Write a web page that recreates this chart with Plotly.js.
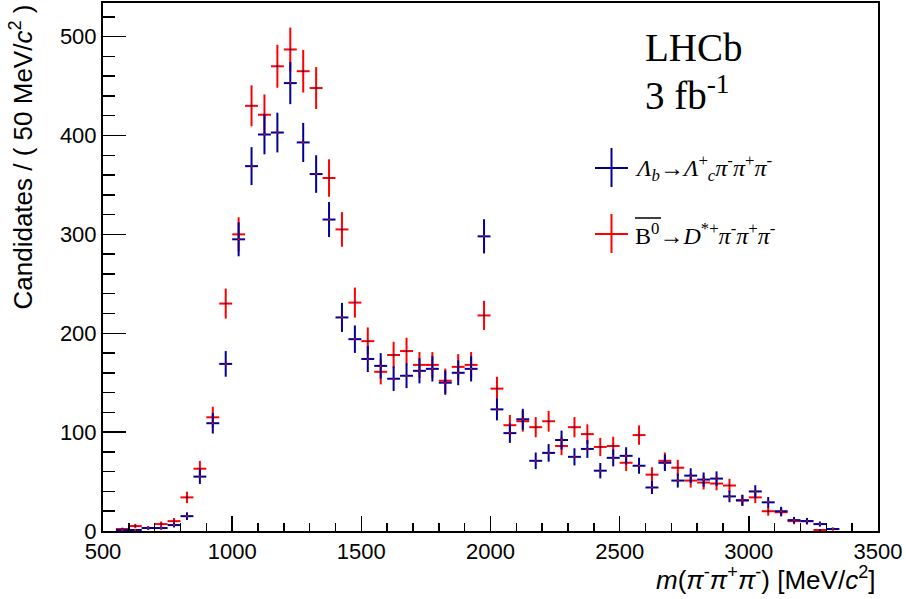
<!DOCTYPE html>
<html>
<head>
<meta charset="utf-8">
<script src="https://cdn.plot.ly/plotly-3.0.1.min.js"></script>
<style>html,body{margin:0;padding:0;background:#fff}#chart{width:906px;height:599px}</style>
</head>
<body>
<div id="chart"></div>
<script>
// Bin centres of m(pi- pi+ pi-) [MeV/c^2], 50 MeV bins
const mass = [575,625,675,725,775,825,875,925,975,1025,1075,1125,1175,1225,1275,1325,1375,1425,1475,1525,1575,1625,1675,1725,1775,1825,1875,1925,1975,2025,2075,2125,2175,2225,2275,2325,2375,2425,2475,2525,2575,2625,2675,2725,2775,2825,2875,2925,2975,3025,3075,3125,3175,3225,3275,3325];
const binHalfWidth = [25];

// Lambda_b -> Lambda_c+ pi- pi+ pi-
const lbCounts = [1,1,3,3,6,15,55,109,169,295,369,401,403,453,393,361,315,216,194,174,167,154,157,162,164,150,160,164,298,123,99,113,71,79,92,75,83,61,74,76,66,44,69,51,56,52,53,35,31,40,29,20,11,10,7,2];
const lbErrors = [1.0,1.0,1.7,1.7,2.4,3.9,7.4,10.4,13.0,17.2,19.2,20.0,20.1,21.3,19.8,19.0,17.7,14.7,13.9,13.2,12.9,12.4,12.5,12.7,12.8,12.2,12.6,12.8,17.3,11.1,9.9,10.6,8.4,8.9,9.6,8.7,9.1,7.8,8.6,8.7,8.1,6.6,8.3,7.1,7.5,7.2,7.3,5.9,5.6,6.3,5.4,4.5,3.3,3.2,2.6,1.4];

// B0bar -> D*+ pi- pi+ pi-
const bdCounts = [2,5,3,7,10,34,63,115,230,300,430,421,470,487,465,448,357,305,231,192,161,178,182,168,168,152,166,168,218,144,107,111,105,111,86,105,98,85,86,69,97,57,71,64,51,49,48,46,31,34,20,19,10,10,1,2];
const bdErrors = [1.4,2.2,1.7,2.6,3.2,5.8,7.9,10.7,15.2,17.3,20.7,20.5,21.7,22.1,21.6,21.2,18.9,17.5,15.2,13.9,12.7,13.3,13.5,13.0,13.0,12.3,12.9,13.0,14.8,12.0,10.3,10.5,10.2,10.5,9.3,10.2,9.9,9.2,9.3,8.3,9.8,7.5,8.4,8.0,7.1,7.0,6.9,6.8,5.6,5.8,4.5,4.4,3.2,3.2,1.0,1.4];

const xTickVals = [500,1000,1500,2000,2500,3000,3500];
const yTickVals = [0,100,200,300,400,500];

const BLUE = '#000099';
const RED = '#ff0000';
const W = 906, H = 599, L = 103, R = 28, T = 3, B = 68;
const pw = W - L - R, ph = H - T - B;
const px = v => (v - L) / pw;        // pixel -> paper x
const py = v => (H - B - v) / ph;    // pixel -> paper y

function histTrace(counts, errs, color, dotColor, name) {
  return {
    type: 'scatter', mode: 'markers', name: name,
    x: mass, y: counts,
    marker: {size: 2, color: dotColor},
    error_y: {type: 'data', array: errs, visible: true, color: color, thickness: 2, width: 0},
    error_x: {type: 'constant', value: binHalfWidth[0], visible: true, color: color, thickness: 2, width: 0},
    showlegend: false, hoverinfo: 'x+y'
  };
}

const data = [
  histTrace(bdCounts, bdErrors, RED, BLUE, 'B0'),
  histTrace(lbCounts, lbErrors, BLUE, RED, 'Lb')
];

const sans = 'Liberation Sans, Arial, sans-serif';
const serif = 'Liberation Serif, Times New Roman, serif';

const layout = {
  width: W, height: H,
  margin: {l: L, r: R, t: T, b: B, pad: 0},
  paper_bgcolor: '#fff', plot_bgcolor: '#fff',
  showlegend: false,
  xaxis: {
    range: [500, 3500], tickvals: xTickVals, ticktext: xTickVals.map(String),
    ticks: 'inside', ticklen: 15, tickwidth: 1.5, tickcolor: '#000',
    minor: {dtick: 100, tick0: 500, ticks: 'inside', ticklen: 8, tickwidth: 1.5, tickcolor: '#000'},
    showline: true, linewidth: 2, linecolor: '#000', mirror: true,
    showgrid: false, zeroline: false,
    tickfont: {family: sans, size: 22, color: '#000'}
  },
  yaxis: {
    range: [0, 534], tickvals: yTickVals, ticktext: yTickVals.map(String),
    ticks: 'inside', ticklen: 23, tickwidth: 1.5, tickcolor: '#000',
    minor: {dtick: 20, tick0: 0, ticks: 'inside', ticklen: 12, tickwidth: 1.5, tickcolor: '#000'},
    showline: true, linewidth: 2, linecolor: '#000', mirror: true,
    showgrid: false, zeroline: false,
    tickfont: {family: sans, size: 22, color: '#000'}
  },
  annotations: [
    {xref: 'paper', yref: 'paper', x: px(22), y: 1.0, xanchor: 'center', yanchor: 'top', textangle: -90,
     text: 'Candidates / ( 50 MeV/<i>c</i><sup>2</sup> )', showarrow: false,
     font: {family: sans, size: 26, color: '#000'}},
    {xref: 'paper', yref: 'paper', x: 1.0, y: py(578), xanchor: 'right', yanchor: 'middle',
     text: '<i>m</i>(<i>π</i><sup>-</sup><i>π</i><sup>+</sup><i>π</i><sup>-</sup>) [MeV/<i>c</i><sup>2</sup>]', showarrow: false,
     font: {family: sans, size: 26, color: '#000'}},
    {xref: 'paper', yref: 'paper', x: px(643), y: py(47), xanchor: 'left', yanchor: 'middle',
     text: 'LHCb', showarrow: false, font: {family: serif, size: 39, color: '#000'}},
    {xref: 'paper', yref: 'paper', x: px(643), y: py(93), xanchor: 'left', yanchor: 'middle',
     text: '3 fb<sup>-1</sup>', showarrow: false, font: {family: serif, size: 39, color: '#000'}},
    {xref: 'paper', yref: 'paper', x: px(633), y: py(168), xanchor: 'left', yanchor: 'middle',
     text: '<i>Λ</i><sub><i>b</i></sub>→<i>Λ</i><sup>+</sup><sub><i>c</i></sub><i>π</i><sup>-</sup><i>π</i><sup>+</sup><i>π</i><sup>-</sup>',
     showarrow: false, font: {family: serif, size: 24, color: '#000'}},
    {xref: 'paper', yref: 'paper', x: px(633), y: py(234), xanchor: 'left', yanchor: 'middle',
     text: 'B<sup>0</sup>→<i>D</i><sup>*+</sup><i>π</i><sup>-</sup><i>π</i><sup>+</sup><i>π</i><sup>-</sup>',
     showarrow: false, font: {family: serif, size: 24, color: '#000'}}
  ],
  shapes: [
    // legend crosses
    {type: 'line', xref: 'paper', yref: 'paper', x0: px(595), x1: px(628), y0: py(168), y1: py(168), line: {color: BLUE, width: 2}},
    {type: 'line', xref: 'paper', yref: 'paper', x0: px(611.5), x1: px(611.5), y0: py(148), y1: py(187), line: {color: BLUE, width: 2}},
    {type: 'line', xref: 'paper', yref: 'paper', x0: px(595), x1: px(628), y0: py(234), y1: py(234), line: {color: RED, width: 2}},
    {type: 'line', xref: 'paper', yref: 'paper', x0: px(611.5), x1: px(611.5), y0: py(214), y1: py(253), line: {color: RED, width: 2}},
    // overline on B0
    {type: 'line', xref: 'paper', yref: 'paper', x0: px(635), x1: px(661), y0: py(218), y1: py(218), line: {color: '#000', width: 1.5}}
  ]
};

Plotly.newPlot('chart', data, layout, {displayModeBar: false, staticPlot: true});
</script>
</body>
</html>
